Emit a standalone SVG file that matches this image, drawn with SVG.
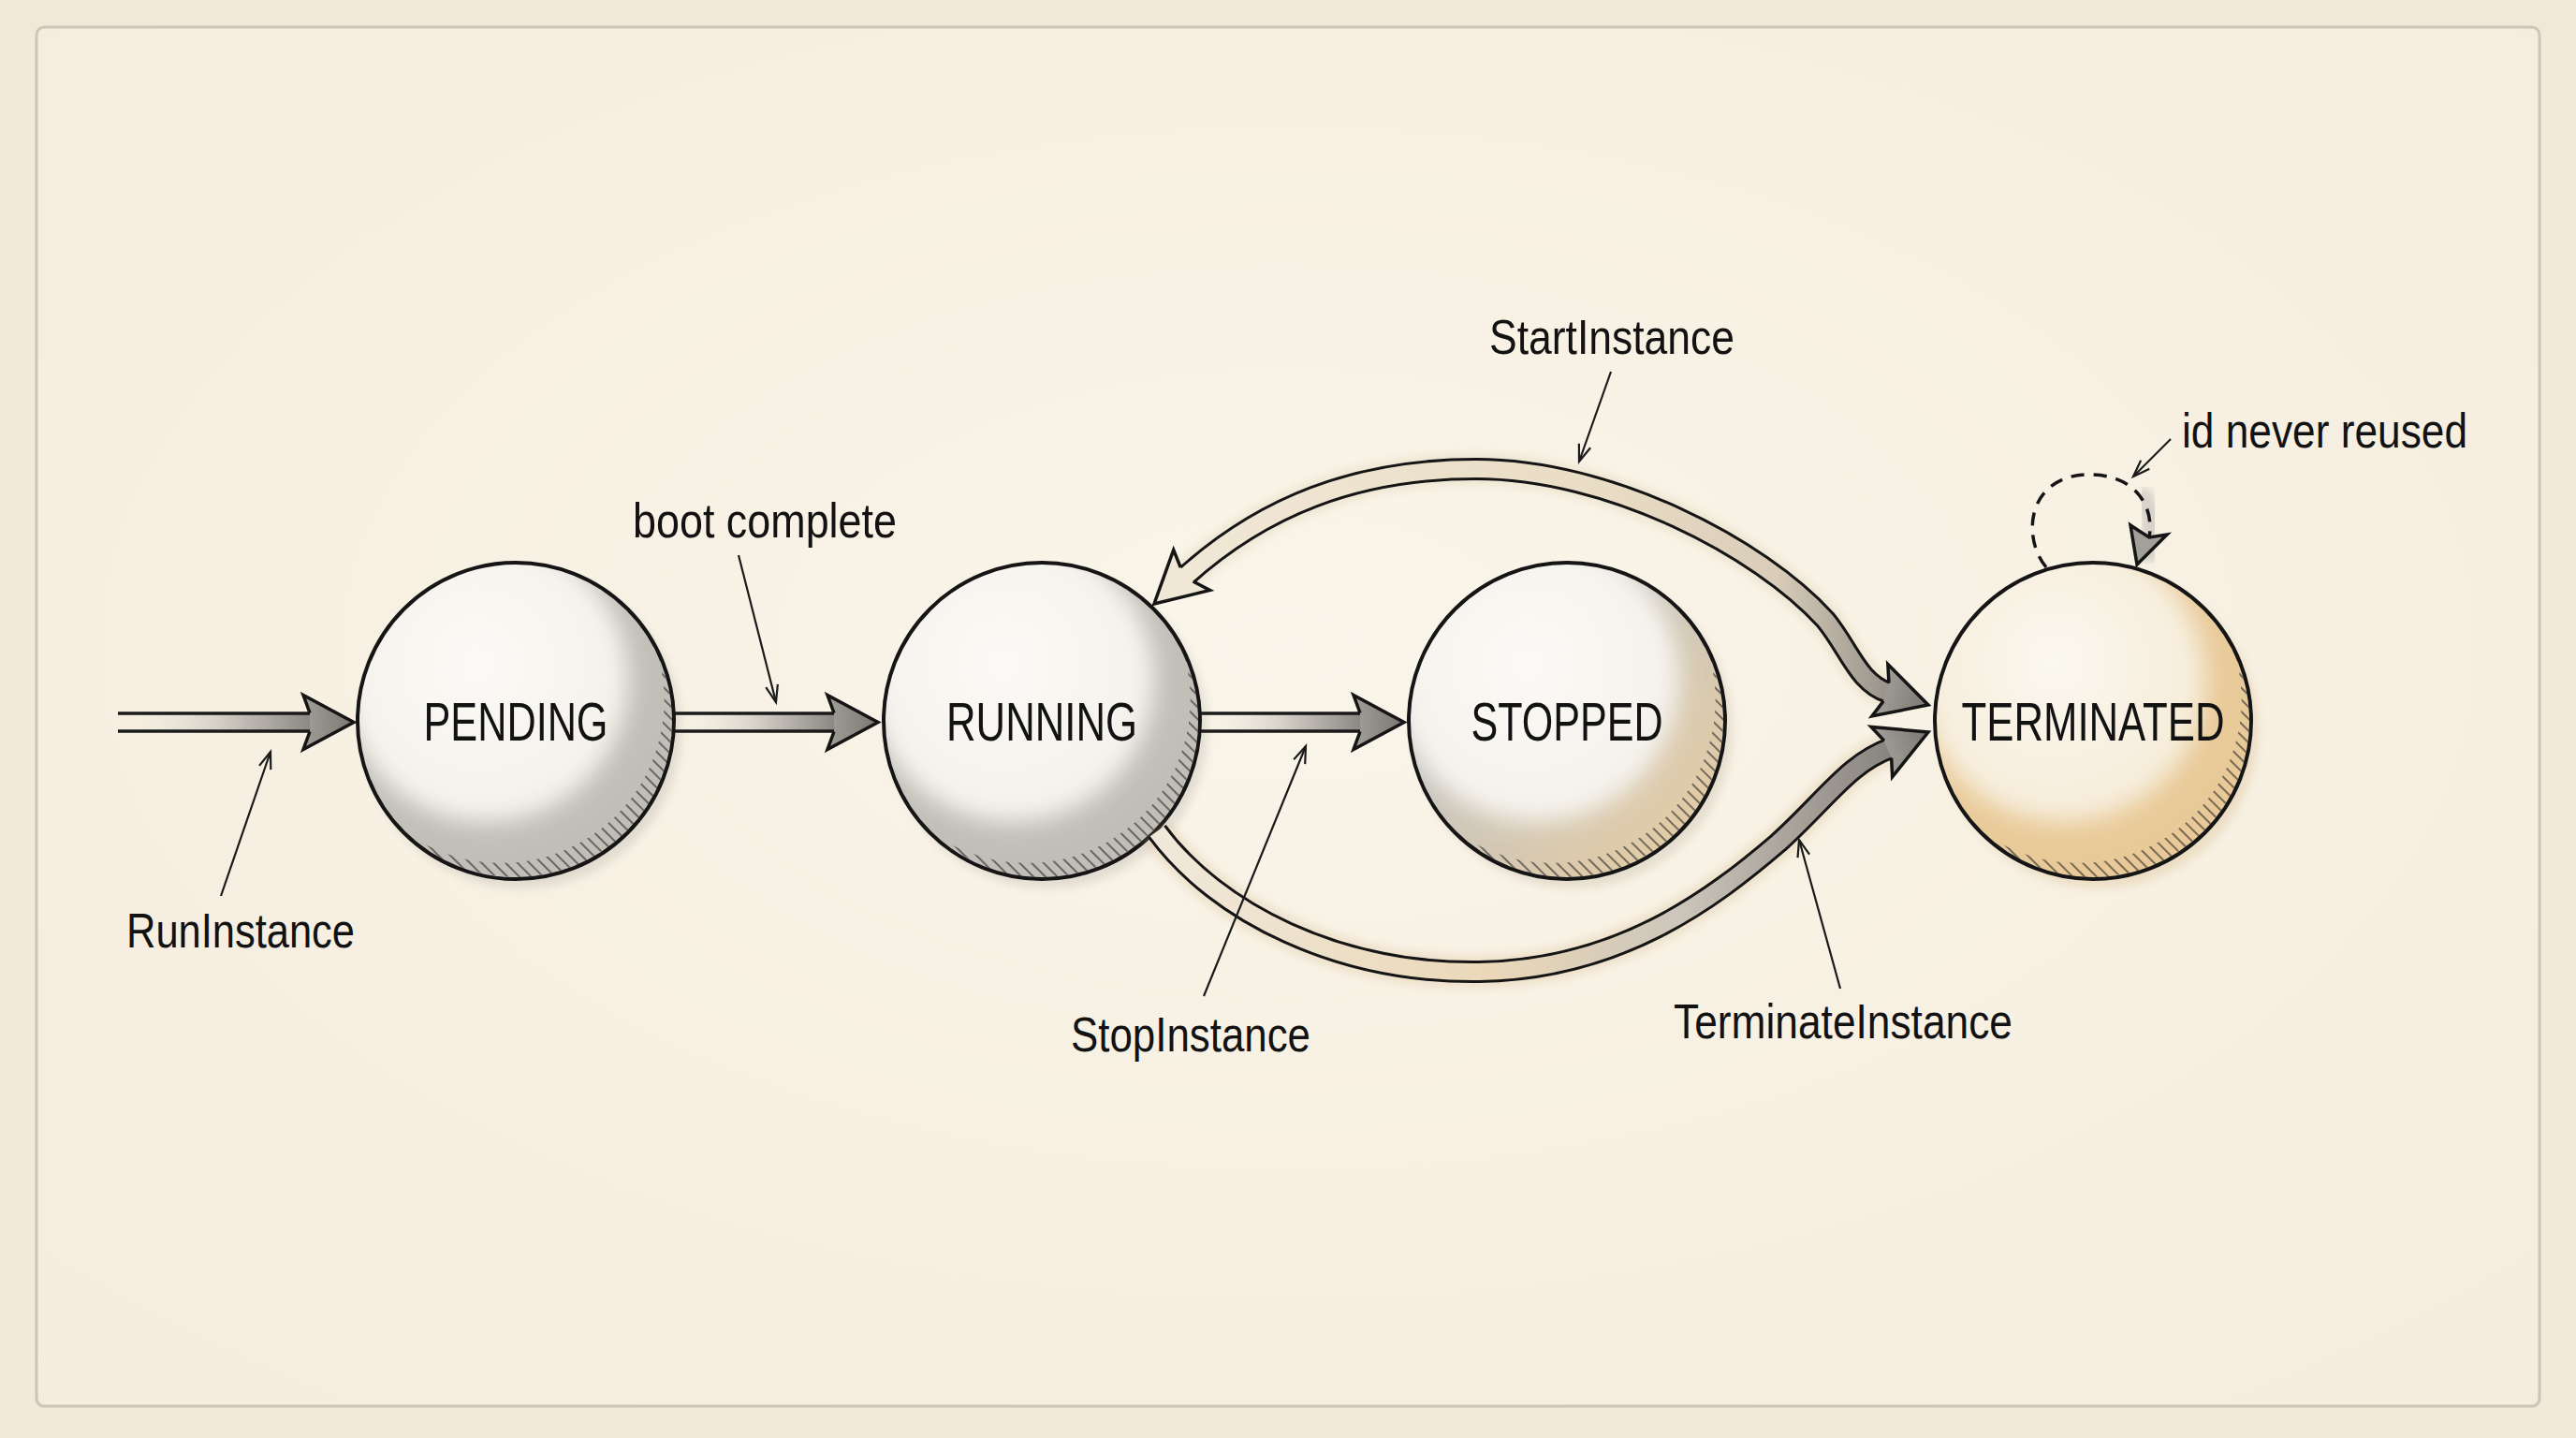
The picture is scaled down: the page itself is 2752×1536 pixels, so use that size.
<svg xmlns="http://www.w3.org/2000/svg" xmlns:xlink="http://www.w3.org/1999/xlink" width="2752" height="1536" viewBox="0 0 2752 1536">
<style>
  .outline{fill:none;stroke:#151515;stroke-width:4}
  .nodeText{font-family:"Liberation Sans",Arial,sans-serif;font-size:57px;fill:#121212}
  .label{font-family:"Liberation Sans",Arial,sans-serif;font-size:52px;fill:#121212}
  .leader{fill:none;stroke:#1a1a1a;stroke-width:2.2;marker-end:url(#vhead)}
  .shaftLine{stroke:#1a1a1a;stroke-width:3.5;fill:none}
  .headLine{fill:none;stroke:#151515;stroke-width:3.5;stroke-linejoin:miter}
  .bandOut{fill:none;stroke:#151515;stroke-width:24}
  .bleed{opacity:.35}
</style>
<defs>
  <radialGradient id="paperG" cx="50%" cy="45%" r="75%">
    <stop offset="0" stop-color="#faf5ea"/>
    <stop offset="1" stop-color="#f4ecdc"/>
  </radialGradient>
  <radialGradient id="bodyG" cx="38%" cy="32%" r="75%">
    <stop offset="0" stop-color="#fcfaf6"/>
    <stop offset="1" stop-color="#f0ede6"/>
  </radialGradient>
  <radialGradient id="bodyT" cx="38%" cy="32%" r="75%">
    <stop offset="0" stop-color="#fbf8f0"/>
    <stop offset="1" stop-color="#f3e6cd"/>
  </radialGradient>
  <linearGradient id="washStop" x1="0" y1="0" x2="1" y2="1">
    <stop offset="0.35" stop-color="#bcbab5"/>
    <stop offset="0.9" stop-color="#e3c594"/>
  </linearGradient>
  <filter id="soft" x="-30%" y="-30%" width="160%" height="160%"><feGaussianBlur stdDeviation="12"/></filter>
  <filter id="soft4" x="-20%" y="-20%" width="140%" height="140%"><feGaussianBlur stdDeviation="5"/></filter>
  <mask id="washMask" maskUnits="userSpaceOnUse" x="-220" y="-220" width="440" height="440">
    <circle r="167" fill="#fff"/>
    <circle cx="-32" cy="-44" r="152" fill="#000" filter="url(#soft)"/>
  </mask>
  <mask id="hatchMask" maskUnits="userSpaceOnUse" x="-220" y="-220" width="440" height="440">
    <circle r="167" fill="#fff"/>
    <circle cx="-15.7" cy="-22.4" r="174.4" fill="#000"/>
  </mask>
  <pattern id="hatch" width="9" height="9" patternUnits="userSpaceOnUse" patternTransform="rotate(-45)">
    <line x1="2" y1="0" x2="2" y2="9" stroke="#2a2a2a" stroke-width="1.2"/>
  </pattern>
  <linearGradient id="shaftG" x1="0" y1="0" x2="1" y2="0">
    <stop offset="0" stop-color="#f3ece0" stop-opacity="0"/>
    <stop offset="0.5" stop-color="#d6d2ca"/>
    <stop offset="1" stop-color="#8a8681"/>
  </linearGradient>
  <linearGradient id="headG" x1="0" y1="0" x2="1" y2="0">
    <stop offset="0" stop-color="#a29e98"/>
    <stop offset="1" stop-color="#7a7671"/>
  </linearGradient>
  <linearGradient id="upperBand" gradientUnits="userSpaceOnUse" x1="1240" y1="0" x2="2040" y2="0">
    <stop offset="0" stop-color="#f1e8d7"/>
    <stop offset="0.6" stop-color="#e9dcc4"/>
    <stop offset="0.82" stop-color="#d9cdb9"/>
    <stop offset="1" stop-color="#8c8883"/>
  </linearGradient>
  <linearGradient id="lowerBand" gradientUnits="userSpaceOnUse" x1="1236" y1="0" x2="2030" y2="0">
    <stop offset="0" stop-color="#f0e8d9"/>
    <stop offset="0.45" stop-color="#ead8b8"/>
    <stop offset="0.7" stop-color="#cdc6bb"/>
    <stop offset="1" stop-color="#85817c"/>
  </linearGradient>
  <path id="headFill" d="M0,0 L-54,-29 L-47,-10 L-47,10 L-54,29 Z"/>
  <path id="headLn" d="M-47,-10 L-54,-29 L0,0 L-54,29 L-47,10"/>
  <marker id="vhead" markerUnits="userSpaceOnUse" markerWidth="30" markerHeight="30" refX="0" refY="0" viewBox="-25 -15 30 30" orient="auto">
    <path d="M-18,-6.5 L0,0 L-18,6.5" fill="none" stroke="#1a1a1a" stroke-width="2.2"/>
  </marker>
</defs>

<!-- paper -->
<rect x="0" y="0" width="2752" height="1536" fill="#f1e9d8"/>
<rect x="39" y="29" width="2674" height="1473" rx="8" fill="url(#paperG)" stroke="#b3ab9e" stroke-width="3" stroke-opacity="0.6"/>

<!-- nodes -->
<g id="node-pending" transform="translate(551,770)">
  <circle class="bleed" cx="7" cy="9" r="170" fill="#b8b3aa" filter="url(#soft4)"/>
  <circle r="169" fill="url(#bodyG)"/>
  <circle r="169" fill="#b6b3ad" opacity="0.8" mask="url(#washMask)"/>
  <circle r="169" fill="url(#hatch)" mask="url(#hatchMask)"/>
  <circle r="169" class="outline"/>
  <text class="nodeText" x="-98.5" y="21" textLength="197" lengthAdjust="spacingAndGlyphs">PENDING</text>
</g>
<g id="node-running" transform="translate(1113,770)">
  <circle class="bleed" cx="7" cy="9" r="170" fill="#b8b3aa" filter="url(#soft4)"/>
  <circle r="169" fill="url(#bodyG)"/>
  <circle r="169" fill="#b6b3ad" opacity="0.8" mask="url(#washMask)"/>
  <circle r="169" fill="url(#hatch)" mask="url(#hatchMask)"/>
  <circle r="169" class="outline"/>
  <text class="nodeText" x="-102" y="21" textLength="204" lengthAdjust="spacingAndGlyphs">RUNNING</text>
</g>
<g id="node-stopped" transform="translate(1674,770)">
  <circle class="bleed" cx="7" cy="9" r="170" fill="#c2b7a4" filter="url(#soft4)"/>
  <circle r="169" fill="url(#bodyG)"/>
  <circle r="169" fill="url(#washStop)" opacity="0.8" mask="url(#washMask)"/>
  <circle r="169" fill="url(#hatch)" mask="url(#hatchMask)"/>
  <circle r="169" class="outline"/>
  <text class="nodeText" x="-102.5" y="21" textLength="205" lengthAdjust="spacingAndGlyphs">STOPPED</text>
</g>
<g id="node-terminated" transform="translate(2236,770)">
  <circle class="bleed" cx="7" cy="9" r="170" fill="#d9bd8e" filter="url(#soft4)"/>
  <circle r="169" fill="url(#bodyT)"/>
  <circle r="169" fill="#e2b775" opacity="0.62" mask="url(#washMask)"/>
  <circle r="169" fill="url(#hatch)" mask="url(#hatchMask)"/>
  <circle r="169" class="outline"/>
  <text class="nodeText" x="-140.5" y="21" textLength="281" lengthAdjust="spacingAndGlyphs">TERMINATED</text>
</g>

<!-- connectors -->
<g id="connectors">
  <g id="edge-entry">
    <rect x="126" y="762" width="208" height="19" fill="url(#shaftG)"/>
    <line class="shaftLine" x1="126" y1="762" x2="332" y2="762"/>
    <line class="shaftLine" x1="126" y1="781" x2="332" y2="781"/>
    <g transform="translate(378,771.5)">
      <use href="#headFill" fill="url(#headG)"/>
      <use href="#headLn" class="headLine"/>
    </g>
  </g>
  <g id="edge-boot">
    <rect x="721" y="762" width="172" height="19" fill="url(#shaftG)"/>
    <line class="shaftLine" x1="721" y1="762" x2="892" y2="762"/>
    <line class="shaftLine" x1="721" y1="781" x2="892" y2="781"/>
    <g transform="translate(938,771.5)">
      <use href="#headFill" fill="url(#headG)"/>
      <use href="#headLn" class="headLine"/>
    </g>
  </g>
  <g id="edge-stop">
    <rect x="1283" y="762" width="172" height="19" fill="url(#shaftG)"/>
    <line class="shaftLine" x1="1283" y1="762" x2="1454" y2="762"/>
    <line class="shaftLine" x1="1283" y1="781" x2="1454" y2="781"/>
    <g transform="translate(1500,771.5)">
      <use href="#headFill" fill="url(#headG)"/>
      <use href="#headLn" class="headLine"/>
    </g>
  </g>
  <g id="edge-start">
    <path d="M1266,616 C1348,542 1447,501 1577,501 C1720,501 1880,585 1950,662 C1975,692 1985,730 2018,740" fill="none" stroke="#d8c6a2" stroke-width="34" stroke-opacity="0.3" filter="url(#soft4)"/>
    <path class="bandOut" d="M1266,616 C1348,542 1447,501 1577,501 C1720,501 1880,585 1950,662 C1975,692 1985,730 2018,740"/>
    <path d="M1266,616 C1348,542 1447,501 1577,501 C1720,501 1880,585 1950,662 C1975,692 1985,730 2018,740" fill="none" stroke="url(#upperBand)" stroke-width="18"/>
    <g transform="translate(1233,645) rotate(138)">
      <use href="#headFill" fill="#f0e7d6"/>
      <use href="#headLn" class="headLine"/>
    </g>
    <g transform="translate(2060,753) rotate(17)">
      <use href="#headFill" fill="url(#headG)"/>
      <use href="#headLn" class="headLine"/>
    </g>
  </g>
  <g id="edge-terminate">
    <path d="M1236,888 C1300,975 1430,1040 1580,1038 C1730,1036 1830,960 1900,900 C1950,855 1975,815 2020,799" fill="none" stroke="#dcc49c" stroke-width="36" stroke-opacity="0.35" filter="url(#soft4)"/>
    <path class="bandOut" d="M1236,888 C1300,975 1430,1040 1580,1038 C1730,1036 1830,960 1900,900 C1950,855 1975,815 2020,799"/>
    <path d="M1236,888 C1300,975 1430,1040 1580,1038 C1730,1036 1830,960 1900,900 C1950,855 1975,815 2020,799" fill="none" stroke="url(#lowerBand)" stroke-width="18"/>
    <g transform="translate(2060,782) rotate(-23)">
      <use href="#headFill" fill="url(#headG)"/>
      <use href="#headLn" class="headLine"/>
    </g>
  </g>
  <g id="edge-loop">
    <path d="M2290,532 C2300,548 2302,570 2296,590" fill="none" stroke="#c9c6c0" stroke-width="22" stroke-linecap="round" opacity="0.7" filter="url(#soft4)"/>
    <path d="M2186,606 C2160,575 2165,510 2228,507 C2280,505 2302,540 2296,574" fill="none" stroke="#151515" stroke-width="3.5" stroke-dasharray="14 10"/>
    <path d="M2283,603 L2276,561 L2296,574 L2315,571 Z" fill="#a3a09a" stroke="#151515" stroke-width="3.5" stroke-linejoin="miter"/>
  </g>
  <path class="leader" d="M236,957 L289,803"/>
  <path class="leader" d="M789,593 L829,750"/>
  <path class="leader" d="M1286,1064 L1395,797"/>
  <path class="leader" d="M1721,397 L1687,493"/>
  <path class="leader" d="M1966,1056 L1922,897"/>
  <path class="leader" d="M2319,469 L2279,509"/>
</g>

<g id="labels">
  <text class="label" x="135" y="1012" textLength="244" lengthAdjust="spacingAndGlyphs">RunInstance</text>
  <text class="label" x="676" y="574" textLength="282" lengthAdjust="spacingAndGlyphs">boot complete</text>
  <text class="label" x="1591" y="378" textLength="262" lengthAdjust="spacingAndGlyphs">StartInstance</text>
  <text class="label" x="2331" y="478" textLength="305" lengthAdjust="spacingAndGlyphs">id never reused</text>
  <text class="label" x="1144" y="1123" textLength="256" lengthAdjust="spacingAndGlyphs">StopInstance</text>
  <text class="label" x="1788" y="1109" textLength="362" lengthAdjust="spacingAndGlyphs">TerminateInstance</text>
</g>
</svg>
